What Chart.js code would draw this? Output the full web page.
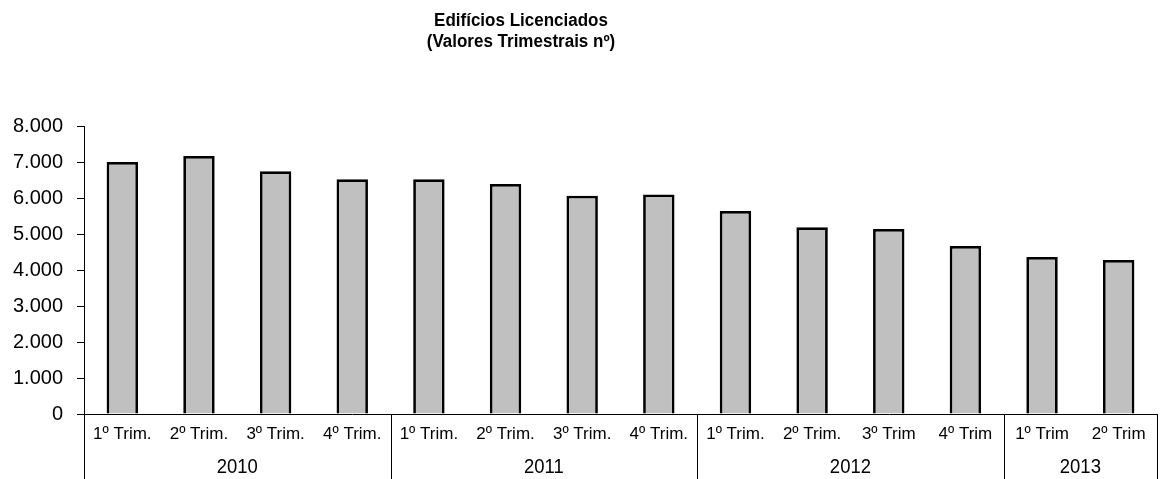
<!DOCTYPE html>
<html lang="pt">
<head>
<meta charset="utf-8">
<title>Edifícios Licenciados</title>
<script src="https://cdn.jsdelivr.net/npm/chart.js@4"></script>
<style>
  html, body { margin: 0; padding: 0; background: #fff; }
  #wrap { width: 1162px; height: 479px; position: relative; }
</style>
</head>
<body>
<div id="wrap"><canvas id="chart" width="1162" height="479"></canvas></div>
<script>
// Quarterly licensed buildings, 2010 – 2º Trim 2013
const quarters = [
  '1º Trim.', '2º Trim.', '3º Trim.', '4º Trim.',
  '1º Trim.', '2º Trim.', '3º Trim.', '4º Trim.',
  '1º Trim.', '2º Trim.', '3º Trim', '4º Trim',
  '1º Trim', '2º Trim'
];
const years = ['2010', '2011', '2012', '2013'];
const quartersPerYear = [4, 4, 4, 2];
const buildings = [7000, 7170, 6740, 6520, 6520, 6390, 6060, 6100, 5640, 5190, 5140, 4670, 4360, 4280];
const yTicks = [0, 1000, 2000, 3000, 4000, 5000, 6000, 7000, 8000];
const titleLines = ['Edifícios Licenciados', '(Valores Trimestrais nº)'];

const FONT = '"Liberation Sans", Arial, sans-serif';

function thousands(v) {
  return String(v).replace(/\B(?=(\d{3})+(?!\d))/g, '.');
}

// Text drawn with an optional vertical stretch
function tallText(ctx, text, x, y, stretch) {
  ctx.save();
  ctx.translate(x, y);
  ctx.scale(1, stretch);
  ctx.fillText(text, 0, 0);
  ctx.restore();
}

// Two-row category table under the bars: quarter labels and year groups
const categoryTable = {
  id: 'categoryTable',
  afterDraw(chart) {
    const ctx = chart.ctx;
    const x = chart.scales.x;
    const area = chart.chartArea;
    const bottom = chart.height;
    const step = x.getPixelForValue(1) - x.getPixelForValue(0);

    ctx.save();
    ctx.fillStyle = '#000';
    ctx.textAlign = 'center';
    ctx.textBaseline = 'middle';
    ctx.font = '17px ' + FONT;
    quarters.forEach((q, i) => {
      tallText(ctx, q, x.getPixelForValue(i), area.bottom + 20, 1.0);
    });

    ctx.strokeStyle = '#000';
    ctx.lineWidth = 1;
    ctx.font = '18.5px ' + FONT;
    let start = 0;
    const edges = [x.getPixelForValue(0) - step / 2];
    years.forEach((yr, g) => {
      const end = start + quartersPerYear[g] - 1;
      const left = x.getPixelForValue(start) - step / 2;
      const right = x.getPixelForValue(end) + step / 2;
      edges.push(right);
      tallText(ctx, yr, (left + right) / 2, area.bottom + 54, 1.05);
      start = end + 1;
    });
    edges.forEach(px => {
      const p = Math.round(px) + 0.5;
      ctx.beginPath();
      ctx.moveTo(p, area.bottom);
      ctx.lineTo(p, bottom);
      ctx.stroke();
    });
    ctx.restore();
  }
};

// Two-line bold heading
const heading = {
  id: 'heading',
  afterDraw(chart) {
    const ctx = chart.ctx;
    ctx.save();
    ctx.fillStyle = '#000';
    ctx.textAlign = 'center';
    ctx.textBaseline = 'alphabetic';
    ctx.font = 'bold 17px ' + FONT;
    tallText(ctx, titleLines[0], 521, 26, 1.04);
    tallText(ctx, titleLines[1], 521, 46.5, 1.04);
    ctx.restore();
  }
};

new Chart(document.getElementById('chart'), {
  type: 'bar',
  data: {
    labels: quarters,
    datasets: [{
      data: buildings,
      backgroundColor: '#c0c0c0',
      borderColor: '#000',
      borderWidth: 2.75,
      barPercentage: 0.41,
      categoryPercentage: 1
    }]
  },
  options: {
    responsive: false,
    animation: false,
    layout: { padding: { top: 126, right: 5, left: 0, bottom: 0 } },
    plugins: {
      legend: { display: false },
      title: { display: false },
      tooltip: { enabled: false }
    },
    scales: {
      x: {
        grid: { display: false },
        border: { display: true, color: '#000', width: 1 },
        ticks: { display: false },
        afterFit(scale) { scale.height = 65; }
      },
      y: {
        min: 0,
        max: 8000,
        afterBuildTicks(scale) { scale.ticks = yTicks.map(v => ({ value: v })); },
        grid: { drawOnChartArea: false, drawTicks: true, tickLength: 7, color: '#000' },
        border: { display: true, color: '#000', width: 1 },
        ticks: {
          color: '#000',
          padding: 14,
          font: { family: FONT, size: 20 },
          callback: v => thousands(v)
        },
        afterFit(scale) { scale.width = 84; }
      }
    }
  },
  plugins: [categoryTable, heading]
});
</script>
</body>
</html>
